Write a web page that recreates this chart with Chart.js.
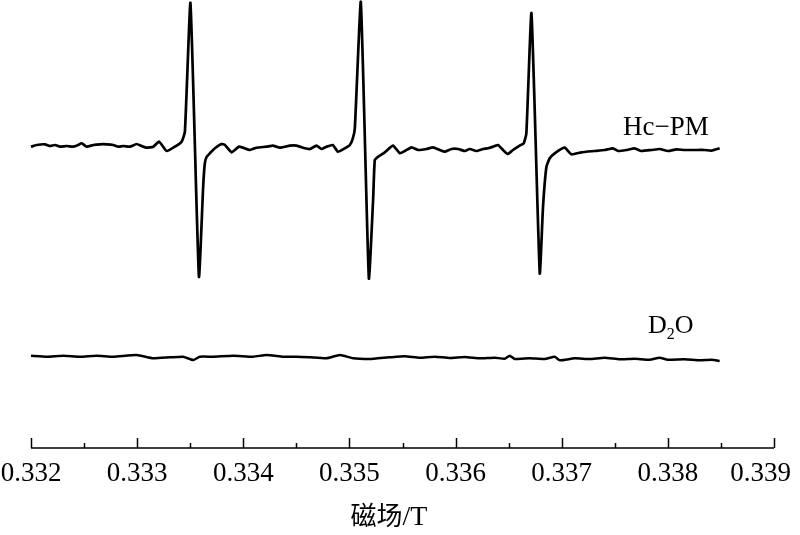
<!DOCTYPE html>
<html><head><meta charset="utf-8">
<script src="https://cdn.jsdelivr.net/npm/chart.js@4.4.0/dist/chart.umd.min.js"></script>
<style>html,body{margin:0;padding:0;background:#fff}canvas{display:block}</style>
</head><body>
<canvas id="c" width="800" height="535"></canvas>
<script>
// Magnetic field (T) and EPR signal (arbitrary units)
const hcField = [0.332000,0.332054,0.332132,0.332179,0.332226,0.332273,0.332336,0.332398,0.332445,0.332477,
  0.332524,0.332587,0.332650,0.332713,0.332775,0.332822,0.332869,0.332932,0.332995,0.333042,
  0.333089,0.333152,0.333208,0.333278,0.333356,0.333419,0.333450,0.333502,0.333582,0.333622,
  0.333638,0.333654,0.333685,0.333733,0.333796,0.333827,0.333890,0.333961,0.334062,0.334125,
  0.334219,0.334279,0.334345,0.334439,0.334502,0.334580,0.334627,0.334690,0.334737,0.334784,
  0.334844,0.334891,0.334957,0.335004,0.335032,0.335051,0.335107,0.335183,0.335223,0.335239,
  0.335270,0.335333,0.335411,0.335475,0.335522,0.335585,0.335647,0.335726,0.335788,0.335851,
  0.335898,0.335961,0.336024,0.336087,0.336134,0.336197,0.336259,0.336306,0.336353,0.336400,
  0.336447,0.336489,0.336541,0.336604,0.336642,0.336667,0.336715,0.336793,0.336824,0.336856,
  0.336887,0.336934,0.337028,0.337091,0.337185,0.337311,0.337405,0.337483,0.337530,0.337609,
  0.337687,0.337750,0.337845,0.337923,0.338001,0.338080,0.338158,0.338252,0.338347,0.338410,0.338488];
const hcSignal = [301.3,303,303.7,302,303,301.3,302,301.3,303,304.7,
  301.3,303,303.7,303.7,303,301.3,302,301.3,304,302,
  300.3,301.3,306.3,297,301.3,306.3,316.3,445.3,171.3,261.3,
  285,291,294.7,299.7,304,303,295.7,301.3,298,300.3,
  301.3,302.3,300.3,302.3,302.3,299.7,299,302.3,299,301.3,
  303,296.3,299.7,303,309.7,319.7,446.3,169.7,248,288,
  291.3,295.7,302.3,294.7,297,300.7,298,299,300.7,298,
  296.3,299,299,297,299,297,299,299.7,301.3,303,
  298,294,298,302.3,304.7,314.7,434.7,174.7,241.3,281.3,
  289.7,294.7,300.3,293.7,295.7,297,298,299.7,297,298,
  299.7,297,298,299,297,298.7,298,298,298,297.3,299.7];
const d2oField = [0.332000,0.332148,0.332304,0.332461,0.332619,0.332775,0.332995,0.333152,0.333309,0.333434,
  0.333528,0.333591,0.333717,0.333905,0.334093,0.334219,0.334376,0.334502,0.334627,0.334784,
  0.334910,0.335035,0.335192,0.335267,0.335380,0.335522,0.335663,0.335804,0.335945,0.336087,
  0.336228,0.336369,0.336463,0.336510,0.336557,0.336699,0.336840,0.336934,0.336981,0.337122,
  0.337264,0.337405,0.337546,0.337687,0.337829,0.337923,0.337998,0.338158,0.338300,0.338413,0.338488];
const d2oSignal = [92.3,91.3,92.3,91.3,92.3,91.3,93,89.7,90.7,91.3,
  88,91.3,91.3,92.3,91.3,93,91.3,91.3,90.7,89.7,
  93,89.7,89,89.7,90.7,91.7,90.3,91.3,90,91,
  89.7,90.3,89.3,92.3,89,89.7,89,91.3,87.7,89.7,
  89,90.3,88.7,89.3,88.3,90.3,88.3,88.7,87.7,88.3,87];
const tickLabels = ['0.332','0.333','0.334','0.335','0.336','0.337','0.338','0.339'];
const seriesNames = ['Hc\u2212PM', 'D2O'];
const axisTitle = '磁场/T';

const toXY = (xs, ys) => xs.map((x, i) => ({x: x, y: ys[i]}));
const serif = '"Liberation Serif", "Times New Roman", serif';

const axisPlugin = {
  id: 'eprAxis',
  afterDraw(chart) {
    const ctx = chart.ctx;
    const xs = chart.scales.x;
    const y0 = chart.chartArea.bottom;
    const vals = tickLabels.map(Number);
    ctx.save();
    ctx.strokeStyle = '#000';
    ctx.lineWidth = 1.5;
    ctx.beginPath();
    ctx.moveTo(xs.getPixelForValue(vals[0]), y0);
    ctx.lineTo(xs.getPixelForValue(vals[vals.length - 1]), y0);
    ctx.stroke();
    for (let i = 0; i < vals.length; i++) {
      const px = Math.round(xs.getPixelForValue(vals[i])) + 0.5;
      ctx.beginPath(); ctx.moveTo(px, y0); ctx.lineTo(px, y0 - 10); ctx.stroke();
      if (i < vals.length - 1) {
        const mx = Math.round(xs.getPixelForValue((vals[i] + vals[i + 1]) / 2)) + 0.5;
        ctx.beginPath(); ctx.moveTo(mx, y0); ctx.lineTo(mx, y0 - 5); ctx.stroke();
      }
    }
    ctx.fillStyle = '#000';
    ctx.font = '27px ' + serif;
    ctx.textBaseline = 'alphabetic';
    ctx.textAlign = 'left';
    for (let i = 0; i < vals.length; i++) {
      const px = xs.getPixelForValue(vals[i]);
      const w = ctx.measureText(tickLabels[i]).width;
      let left = px - w / 2;
      if (left + w > 791) left = 791 - w;
      if (left < 0) left = 0;
      ctx.fillText(tickLabels[i], left, 481);
    }
    // axis title
    const cjk = axisTitle.slice(0, 2), rest = axisTitle.slice(2);
    ctx.font = '26px "Noto Sans CJK SC"';
    const w1 = ctx.measureText(cjk).width;
    ctx.font = '28px ' + serif;
    const w2 = ctx.measureText(rest).width;
    const tx = 389 - (w1 + w2) / 2;
    ctx.font = '26px "Noto Sans CJK SC"';
    ctx.fillText(cjk, tx, 525);
    ctx.font = '28px ' + serif;
    ctx.fillText(rest, tx + w1, 525);
    // series labels
    ctx.font = '27px ' + serif;
    ctx.fillText(seriesNames[0], 623, 135);
    ctx.font = '26px ' + serif;
    ctx.fillText('D', 648, 333);
    const dw = ctx.measureText('D').width;
    ctx.font = '16px ' + serif;
    ctx.fillText('2', 648 + dw, 339);
    const tw = ctx.measureText('2').width;
    ctx.font = '26px ' + serif;
    ctx.fillText('O', 648 + dw + tw, 333);
    ctx.restore();
  }
};

new Chart(document.getElementById('c'), {
  type: 'line',
  data: {
    datasets: [
      {label: seriesNames[0], data: toXY(hcField, hcSignal), borderColor: '#000', borderWidth: 2.7,
       pointRadius: 0, tension: 0.15, fill: false, clip: false, borderJoinStyle: 'round'},
      {label: seriesNames[1], data: toXY(d2oField, d2oSignal), borderColor: '#000', borderWidth: 2.5,
       pointRadius: 0, tension: 0.15, fill: false, clip: false, borderJoinStyle: 'round'}
    ]
  },
  options: {
    responsive: false,
    animation: false,
    devicePixelRatio: 1,
    layout: {padding: {left: 31, right: 26, top: 0, bottom: 87}},
    plugins: {legend: {display: false}, tooltip: {enabled: false}, title: {display: false}},
    scales: {
      x: {type: 'linear', min: 0.332, max: 0.339, display: false},
      y: {type: 'linear', min: 0, max: 448, display: false}
    }
  },
  plugins: [axisPlugin]
});
</script>
</body></html>
